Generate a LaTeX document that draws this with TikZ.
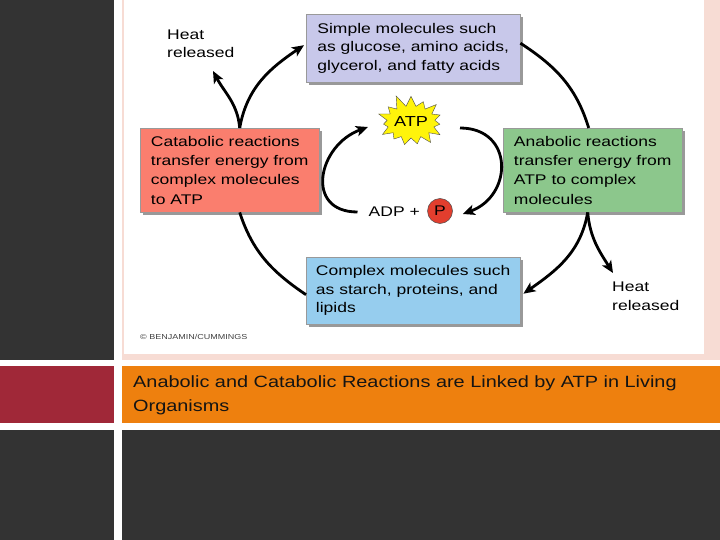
\documentclass[tikz,border=0pt]{standalone}
\usepackage{fontspec}
\setmainfont{Liberation Sans}
\newfontfamily\boxfont[FakeStretch=1.25]{Liberation Sans}
\newfontfamily\capfont[FakeStretch=1.22]{Liberation Sans}
\usetikzlibrary{shapes.symbols,shadows,arrows.meta}
\definecolor{darkbg}{RGB}{51,51,51}
\definecolor{redbar}{RGB}{160,40,56}
\definecolor{pinkb}{RGB}{247,220,212}
\definecolor{orangeb}{RGB}{238,128,14}
\definecolor{simplec}{RGB}{200,200,234}
\definecolor{catc}{RGB}{250,126,110}
\definecolor{anac}{RGB}{140,199,140}
\definecolor{compc}{RGB}{150,205,238}
\definecolor{pfill}{RGB}{226,62,46}
\definecolor{atpc}{RGB}{255,244,10}
\begin{document}
\begin{tikzpicture}[x=1pt,y=1pt,
  arr/.style={line width=2.8pt,-{Stealth[length=12pt,width=10.5pt,inset=3pt]}},
  ln/.style={line width=2.8pt},
  molbox/.style={rectangle,draw=black!40,line width=0.4pt,align=left,anchor=north west,
    inner sep=0pt,
    copy shadow={shadow xshift=2.5pt,shadow yshift=-2.5pt,fill=black!40,draw=none}},
  fbig/.style={font=\boxfont\fontsize{14}{19.2}\selectfont},
  fmid/.style={font=\boxfont\fontsize{14}{18.6}\selectfont},
  lbl/.style={inner sep=0pt,align=left,font=\boxfont\fontsize{14}{18.5}\selectfont}
]
\useasboundingbox (0,0) rectangle (720,-540);
% background slide
\fill[darkbg] (0,0) rectangle (114,-359.5);
\fill[redbar] (0,-366) rectangle (114,-423);
\fill[darkbg] (0,-430) rectangle (114,-540);
\fill[pinkb] (122,0) rectangle (720,-359.5);
\fill[white] (124,0) rectangle (703.5,-353.5);
\fill[orangeb] (122,-366) rectangle (720,-423);
\fill[darkbg] (122,-430) rectangle (720,-540);

% boxes
\node[molbox,fmid,fill=simplec,minimum height=68pt,minimum width=214pt] (simple) at (306,-14)
  {Simple molecules such\\as glucose, amino acids,\\glycerol, and fatty acids};
\node[molbox,fbig,fill=catc,minimum height=84pt,minimum width=179pt] (cat) at (140,-128)
  {Catabolic reactions\\transfer energy from\\complex molecules\\to ATP};
\node[molbox,fbig,fill=anac,minimum height=84pt,minimum width=179pt] (ana) at (503,-128)
  {Anabolic reactions\\transfer energy from\\ATP to complex\\molecules};
\node[molbox,fmid,fill=compc,minimum height=67pt,minimum width=214pt] (complex) at (306,-257)
  {Complex molecules such\\as starch, proteins, and\\lipids};

% labels
\node[lbl,anchor=west] (heat1) at (167,-44) {Heat\\released};
\node[lbl,anchor=west] (heat2) at (612,-296.5) {Heat\\released};
\coordinate (h1tip) at (213,-71);
\coordinate (h2tip) at (613,-273);

\node[starburst,starburst points=15,starburst point height=13pt,random starburst=11,
  fill=atpc,draw=black!70,line width=0.4pt,minimum width=74pt,minimum height=58pt,
  inner sep=0pt,font=\boxfont\fontsize{14.5}{14.5}\selectfont] (atp) at (411,-122) {ATP};
\node[inner sep=0pt,anchor=west,font=\boxfont\fontsize{14}{14}\selectfont] (adp) at (368.5,-212) {ADP +};
\node[circle,fill=pfill,draw=black!70,line width=0.5pt,minimum size=25pt,inner sep=0pt,
  font=\boxfont\fontsize{14}{14}\selectfont] (pc) at (440,-211) {P};

\node[inner sep=0pt,anchor=west,text=black!75,font=\boxfont\fontsize{7.2}{8}\selectfont] (copy) at (140,-337)
  {\textcopyright\ BENJAMIN/CUMMINGS};

% caption
\node[inner sep=0pt,anchor=north west,align=left,text=black!92,font=\capfont\fontsize{16.3}{24}\selectfont] (cap) at (133,-375)
  {Anabolic and Catabolic Reactions are Linked by ATP in Living\\Organisms};

% outer cycle
\draw[arr] ([xshift=10pt]cat.north) to[out=80,in=214] ([shift={(-2pt,3pt)}]simple.west);
\draw[arr] ([xshift=10pt]cat.north) to[out=95,in=-62] (h1tip);
\draw[ln] ([yshift=5pt]simple.east) to[out=-33,in=107] ([xshift=-4pt]ana.north);
\draw[arr] ([xshift=-5pt]ana.south) to[out=-100,in=35] ([shift={(3pt,-3pt)}]complex.east);
\draw[arr] ([xshift=-5pt]ana.south) to[out=-85,in=122] (h2tip);
\draw[ln] ([yshift=-4pt]complex.west) to[out=146,in=-72] ([xshift=10pt]cat.south);

% inner cycle
\draw[arr] ([xshift=-11pt]adp.west) to[out=180,in=200,looseness=1.6] ([shift={(-43pt,-5pt)}]atp.center);
\draw[arr] ([shift={(49pt,-6pt)}]atp.center) to[out=0,in=20,looseness=1.6] ([shift={(10pt,-3pt)}]pc.east);
\end{tikzpicture}
\end{document}
